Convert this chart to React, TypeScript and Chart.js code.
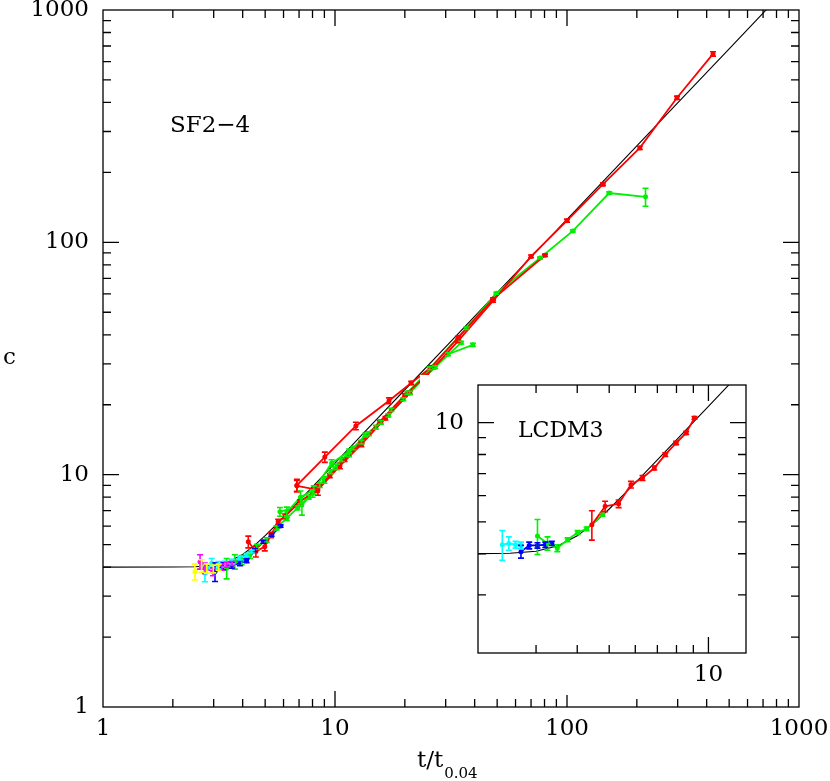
import React, { useEffect, useRef } from "react";
import { Chart, registerables } from "chart.js";
Chart.register(...registerables);

// ---------- model curve ----------
const modelT = [1, 2, 2.5, 3, 3.5, 4, 4.5, 5, 5.5, 6, 7, 8, 9, 10, 12, 15, 20, 30, 50, 70, 100, 150, 200, 300, 500, 700, 1000];
const modelC = [4.0, 4.003, 4.016, 4.072, 4.229, 4.533, 4.964, 5.468, 6.01, 6.567, 7.709, 8.865, 10.03, 11.2, 13.57, 17.15, 23.2, 35.5, 60.7, 86.4, 125.7, 192.4, 260.3, 398.4, 681, 970, 1410];

// ---------- main panel (SF2-4) ----------
const mainTicks = [1, 10, 100, 1000];
const mainMinor = [2, 3, 4, 5, 6, 7, 8, 9, 20, 30, 40, 50, 60, 70, 80, 90, 200, 300, 400, 500, 600, 700, 800, 900];
const mainMajor = [10, 100];

const yellowT = [2.49, 2.66, 2.8, 2.99, 3.15];
const yellowC = [3.82, 4.05, 3.95, 3.93, 4.0];
const yellowE = [0.3, 0.25, 0.18, 0.15, 0.12];

const magentaT = [2.62, 2.75, 2.98, 3.25, 3.41, 3.6];
const magentaC = [4.22, 3.96, 3.82, 4.0, 4.1, 4.15];
const magentaE = [0.3, 0.2, 0.15, 0.12, 0.1, 0.08];

const cyanT = [2.75, 2.94, 3.14, 3.35, 3.59, 3.89, 4.16, 4.38];
const cyanC = [3.76, 4.16, 4.08, 4.12, 4.22, 4.37, 4.51, 4.66];
const cyanE = [0.3, 0.2, 0.15, 0.12, 0.1, 0.08, 0.07, 0.06];

const blueT = [3.04, 3.3, 3.59, 3.89, 4.16, 4.52, 4.91, 5.33, 5.83];
const blueC = [3.82, 4.05, 4.08, 4.16, 4.26, 4.74, 5.14, 5.5, 6.01];
const blueE = [0.35, 0.15, 0.12, 0.1, 0.08, 0.07, 0.07, 0.07, 0.07];

const green1T = [3.41, 3.7, 3.96, 4.3, 4.6, 5.08, 5.6, 6.2, 6.9, 7.7, 8.6, 9.6, 10.7, 12, 13.5, 15.8, 19.7, 25.6, 36.9, 49.6, 76.5, 106, 152, 218];
const green1C = [3.96, 4.22, 4.29, 4.51, 4.9, 5.23, 5.9, 6.5, 7.2, 8.0, 9.0, 10.3, 11.6, 13.0, 14.8, 16.8, 21.1, 28.7, 42.7, 60.4, 85.6, 112, 163, 157];
const green1E = [0.4, 0.3, 0.2, 0.15, 0.12, 0.12, 0.12, 0.15, 0.15, 0.15, 0.2, 0.2, 0.2, 0.2, 0.25, 0.3, 0.3, 0.4, 0.5, 0.6, 0.8, 1.2, 2, 14];

const green2T = [5.79, 7.2, 8.0, 9.0, 10.2, 11.5, 13, 15, 17.5, 20.5, 23.9, 30.7, 39.3];
const green2C = [6.92, 7.4, 8.3, 9.5, 10.8, 12.2, 13.8, 16, 19, 22.5, 26.3, 33, 36.2];
const green2E = [0.3, 0.7, 0.3, 0.3, 0.3, 0.25, 0.25, 0.3, 0.3, 0.35, 0.4, 0.5, 0.6];

const green3T = [6.2, 7.1, 8.1, 9.67, 11.5, 14, 17, 21, 27, 35];
const green3C = [6.9, 8.0, 8.6, 11.2, 12.6, 15.0, 18.0, 22.5, 29, 37];
const green3E = [0.35, 0.5, 0.35, 0.4, 0.3, 0.3, 0.3, 0.35, 0.4, 0.5];

const red1T = [4.23, 4.56, 4.98, 5.3, 5.69, 6.09, 7.06, 8.35, 9.5, 11, 13, 15.6, 20, 24.7, 33.9, 48, 70, 100, 143, 206, 298, 426];
const red1C = [5.14, 4.67, 4.9, 5.5, 6.27, 6.62, 7.65, 8.6, 9.9, 11.6, 13.8, 16.9, 22, 26.6, 37.6, 56, 87, 124, 178, 255, 419, 647];
const red1E = [0.3, 0.25, 0.2, 0.15, 0.15, 0.15, 0.15, 0.2, 0.2, 0.2, 0.2, 0.25, 0.3, 0.35, 0.5, 0.8, 1.2, 1.8, 2.5, 4, 7, 14];

const red2T = [6.85, 9.04, 12.3, 17.1, 21.3, 26, 34, 48, 80.4];
const red2C = [9.0, 11.9, 16.2, 20.8, 24.8, 29, 39, 57, 88];
const red2E = [0.55, 0.6, 0.6, 0.6, 0.4, 0.4, 0.5, 0.7, 1];

const red3T = [6.85, 8.44, 10.5, 13, 16.5, 21];
const red3C = [8.95, 8.6, 10.9, 13.5, 17.5, 22.5];
const red3E = [0.5, 0.45, 0.3, 0.3, 0.3, 0.35];

// ---------- inset (LCDM3) ----------
const insetMinor = [3, 4, 5, 6, 7, 8, 9];
const insetMajor = [10];
const insetTicks = [10];

const inCyanT = [2.37, 2.48, 2.6, 2.7];
const inCyanC = [4.26, 4.3, 4.26, 4.24];
const inCyanE = [0.44, 0.2, 0.1, 0.1];

const inBlueT = [2.7, 2.86, 3.03, 3.2, 3.35];
const inBlueC = [4.06, 4.24, 4.24, 4.26, 4.3];
const inBlueE = [0.18, 0.1, 0.08, 0.08, 0.06];

const inGreenT = [3.03, 3.25, 3.48, 3.74, 4.01, 4.27, 4.77];
const inGreenC = [4.53, 4.3, 4.16, 4.41, 4.64, 4.76, 5.25];
const inGreenE = [0.55, 0.2, 0.1, 0.06, 0.06, 0.06, 0.05];

const inRedT = [4.43, 4.86, 5.34, 5.82, 6.31, 6.85, 7.4, 7.98, 8.56, 9.07];
const inRedC = [4.9, 5.57, 5.67, 6.48, 6.79, 7.28, 7.99, 8.67, 9.3, 10.33];
const inRedE = [0.5, 0.2, 0.15, 0.15, 0.12, 0.1, 0.1, 0.1, 0.1, 0.1];

const RED = "#ff0000";
const GREEN = "#00f000";
const BLUE = "#0000ff";
const CYAN = "#00ffff";
const MAGENTA = "#ff00ff";
const YELLOW = "#ffff00";
const FONT = "'DejaVu Serif', serif";

function series(t: number[], c: number[], e: number[] | null, color: string, width = 1.8) {
  return {
    data: t.map((x, i) => ({ x, y: c[i] })),
    errors: e,
    borderColor: color,
    backgroundColor: color,
    borderWidth: width,
    pointRadius: e ? 1.6 : 0,
    pointHoverRadius: 0,
    tension: 0,
    fill: false,
  };
}

const errPlugin = {
  id: "errbars",
  afterDatasetsDraw(chart: any) {
    const { ctx, chartArea: a } = chart;
    const xs = chart.scales.x;
    const ys = chart.scales.y;
    ctx.save();
    ctx.beginPath();
    ctx.rect(a.left, a.top, a.right - a.left, a.bottom - a.top);
    ctx.clip();
    chart.data.datasets.forEach((ds: any) => {
      const errs = ds.errors;
      if (!errs) return;
      ctx.strokeStyle = ds.borderColor;
      ctx.lineWidth = 1.6;
      ds.data.forEach((p: any, i: number) => {
        const e = errs[i];
        if (!e) return;
        const px = xs.getPixelForValue(p.x);
        const y1 = ys.getPixelForValue(p.y + e);
        const y2 = ys.getPixelForValue(Math.max(p.y - e, 1e-3));
        ctx.beginPath();
        ctx.moveTo(px, y1);
        ctx.lineTo(px, y2);
        ctx.moveTo(px - 3, y1);
        ctx.lineTo(px + 3, y1);
        ctx.moveTo(px - 3, y2);
        ctx.lineTo(px + 3, y2);
        ctx.stroke();
      });
    });
    ctx.restore();
  },
};

const framePlugin = {
  id: "frame",
  afterDraw(chart: any, _args: any, opts: any) {
    const { ctx, chartArea: a, scales } = chart;
    ctx.save();
    ctx.strokeStyle = "#000";
    ctx.lineWidth = 1.3;
    ctx.strokeRect(a.left, a.top, a.right - a.left, a.bottom - a.top);
    const draw = (vals: number[], len: number) => {
      vals.forEach((v) => {
        const x = scales.x.getPixelForValue(v);
        if (x > a.left + 0.5 && x < a.right - 0.5) {
          ctx.beginPath();
          ctx.moveTo(x, a.bottom);
          ctx.lineTo(x, a.bottom - len);
          ctx.moveTo(x, a.top);
          ctx.lineTo(x, a.top + len);
          ctx.stroke();
        }
        const y = scales.y.getPixelForValue(v);
        if (y > a.top + 0.5 && y < a.bottom - 0.5) {
          ctx.beginPath();
          ctx.moveTo(a.left, y);
          ctx.lineTo(a.left + len, y);
          ctx.moveTo(a.right, y);
          ctx.lineTo(a.right - len, y);
          ctx.stroke();
        }
      });
    };
    draw(opts.minor || [], opts.minorLen || 8);
    draw(opts.major || [], opts.majorLen || 16);
    ctx.restore();
  },
};

const textPlugin = {
  id: "texts",
  afterDraw(chart: any, _args: any, opts: any) {
    const { ctx } = chart;
    ctx.save();
    ctx.fillStyle = "#000";
    ctx.textBaseline = "alphabetic";
    ctx.textAlign = "left";
    let lastEnd = 0;
    (opts.items || []).forEach((it: any) => {
      ctx.font = `${it.size}px ${FONT}`;
      const x = it.follow ? lastEnd + (it.gap || 0) : it.x;
      ctx.fillText(it.text, x, it.y);
      lastEnd = x + ctx.measureText(it.text).width;
    });
    ctx.restore();
  },
};

function logAxis(min: number, max: number, tickVals: number[], size: number, fitSize: number, horizontal: boolean, pad: number) {
  return {
    type: "logarithmic" as const,
    min,
    max,
    grid: { display: false, drawTicks: false },
    border: { display: false },
    afterBuildTicks: (axis: any) => {
      axis.ticks = tickVals.map((v) => ({ value: v }));
    },
    afterFit: (s: any) => {
      if (horizontal) s.height = fitSize;
      else s.width = fitSize;
      s.paddingTop = 0;
      s.paddingBottom = 0;
      s.paddingLeft = 0;
      s.paddingRight = 0;
    },
    ticks: {
      autoSkip: false,
      maxRotation: 0,
      minRotation: 0,
      padding: pad,
      color: "#000",
      font: { family: FONT, size },
      callback: (v: any) => String(v),
    },
  };
}

function MainChart() {
  const ref = useRef<HTMLCanvasElement>(null);
  useEffect(() => {
    const chart = new Chart(ref.current as HTMLCanvasElement, {
      type: "line",
      data: {
        datasets: [
          series(red1T, red1C, red1E, RED),
          series(red2T, red2C, red2E, RED),
          series(red3T, red3C, red3E, RED),
          series(green1T, green1C, green1E, GREEN),
          series(green2T, green2C, green2E, GREEN),
          series(green3T, green3C, green3E, GREEN),
          series(blueT, blueC, blueE, BLUE),
          series(cyanT, cyanC, cyanE, CYAN),
          series(magentaT, magentaC, magentaE, MAGENTA),
          series(yellowT, yellowC, yellowE, YELLOW),
          series(modelT, modelC, null, "#000", 1.1),
        ] as any,
      },
      options: {
        animation: false,
        responsive: false,
        events: [],
        layout: { padding: { top: 10, right: 31, left: 0, bottom: 0 } },
        scales: {
          x: logAxis(1, 1000, mainTicks, 23, 74, true, 8) as any,
          y: logAxis(1, 1000, mainTicks, 23, 103, false, 14) as any,
        },
        plugins: {
          legend: { display: false },
          tooltip: { enabled: false },
          frame: { minor: mainMinor, major: mainMajor, minorLen: 8, majorLen: 16 },
          texts: {
            items: [
              { text: "SF2\u22124", x: 170, y: 132, size: 23 },
              { text: "c", x: 3, y: 364, size: 23 },
              { text: "t/t", x: 417, y: 767, size: 23 },
              { text: "0.04", follow: true, gap: 1, y: 778, size: 15 },
            ],
          },
        } as any,
      },
      plugins: [errPlugin, framePlugin, textPlugin],
    });
    return () => chart.destroy();
  }, []);
  return <canvas ref={ref} width={830} height={781} style={{ position: "absolute", left: 0, top: 0 }} />;
}

function InsetChart() {
  const ref = useRef<HTMLCanvasElement>(null);
  useEffect(() => {
    const chart = new Chart(ref.current as HTMLCanvasElement, {
      type: "line",
      data: {
        datasets: [
          series(inRedT, inRedC, inRedE, RED),
          series(inGreenT, inGreenC, inGreenE, GREEN),
          series(inBlueT, inBlueC, inBlueE, BLUE),
          series(inCyanT, inCyanC, inCyanE, CYAN),
          series(modelT, modelC, null, "#000", 1.1),
        ] as any,
      },
      options: {
        animation: false,
        responsive: false,
        events: [],
        layout: { padding: { top: 10, right: 14, left: 0, bottom: 0 } },
        scales: {
          x: logAxis(2, 13, insetTicks, 23, 42, true, 8) as any,
          y: logAxis(2, 13, insetTicks, 23, 58, false, 14) as any,
        },
        plugins: {
          legend: { display: false },
          tooltip: { enabled: false },
          frame: { minor: insetMinor, major: insetMajor, minorLen: 8, majorLen: 16 },
          texts: { items: [{ text: "LCDM3", x: 98, y: 62, size: 22 }] },
        } as any,
      },
      plugins: [errPlugin, framePlugin, textPlugin],
    });
    return () => chart.destroy();
  }, []);
  return (
    <canvas
      ref={ref}
      width={340}
      height={320}
      style={{ position: "absolute", left: 420, top: 375, background: "#fff" }}
    />
  );
}

export default function App() {
  return (
    <div style={{ position: "absolute", left: 0, top: 0, width: 830, height: 781, background: "#fff" }}>
      <MainChart />
      <InsetChart />
    </div>
  );
}
